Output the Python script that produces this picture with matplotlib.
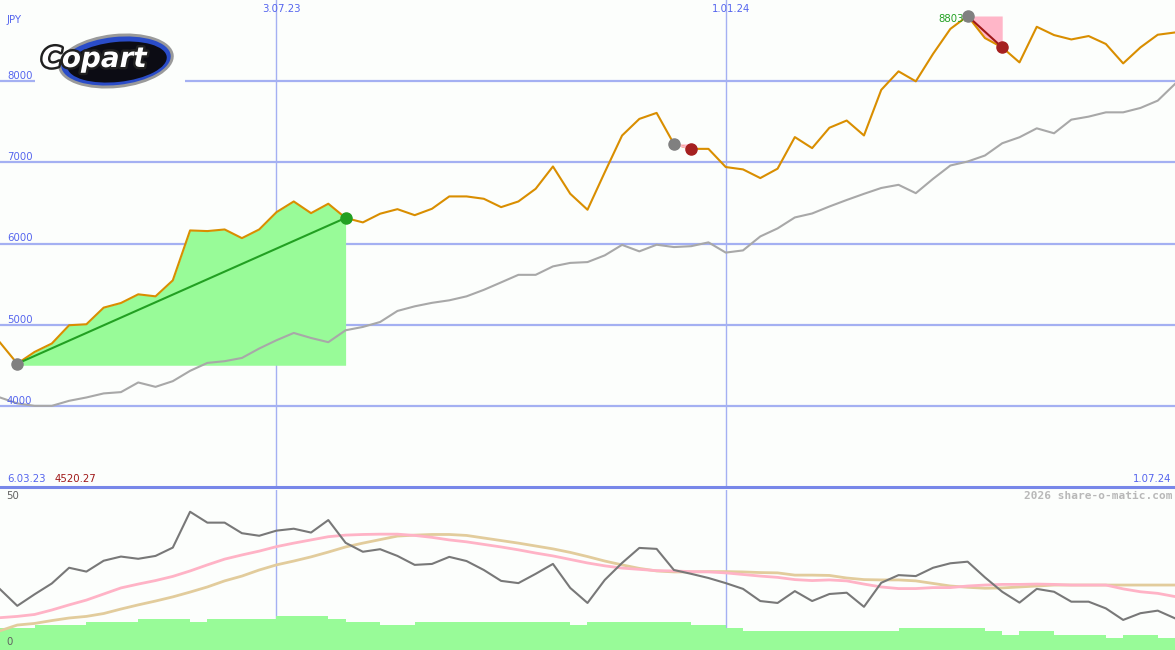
import numpy as np
import matplotlib.pyplot as plt
from matplotlib.patches import Ellipse
import matplotlib.patheffects as pe

# weekly closes (JPY) and comparison line
price = [4780, 4520, 4664, 4768, 4993, 5005, 5210, 5267, 5374, 5349,
         5546, 6161, 6153, 6173, 6066, 6173, 6386, 6518, 6374, 6490,
         6315, 6260, 6367, 6423, 6349, 6428, 6580, 6580, 6551, 6448,
         6518, 6674, 6949, 6613, 6416, 6878, 7330, 7535, 7609, 7227,
         7166, 7166, 6942, 6913, 6806, 6922, 7311, 7175, 7426, 7515,
         7331, 7893, 8121, 7998, 8337, 8644, 8803, 8531, 8416, 8231,
         8670, 8568, 8514, 8556, 8458, 8219, 8416, 8572, 8600]
bench = [4103, 4030, 4000, 4000, 4062, 4103, 4153, 4169, 4288, 4234,
         4304, 4431, 4529, 4550, 4590, 4706, 4808, 4898, 4836, 4784,
         4931, 4972, 5033, 5169, 5226, 5269, 5300, 5349, 5429, 5521,
         5614, 5614, 5718, 5761, 5771, 5854, 5983, 5903, 5985, 5956,
         5967, 6014, 5888, 5915, 6087, 6186, 6321, 6370, 6456, 6536,
         6612, 6684, 6723, 6620, 6797, 6961, 7010, 7084, 7235, 7309,
         7419, 7358, 7526, 7563, 7616, 7616, 7670, 7760, 7966]

# lower panel
osc = [19.0, 13.8, 17.4, 20.8, 25.7, 24.5, 27.9, 29.2, 28.5, 29.4,
       32.0, 43.2, 39.8, 39.8, 36.5, 35.7, 37.3, 37.9, 36.7, 40.6,
       33.5, 30.7, 31.5, 29.4, 26.6, 26.9, 29.1, 27.8, 25.0, 21.6,
       20.9, 23.8, 26.9, 19.4, 14.7, 21.9, 27.2, 31.9, 31.6, 25.0,
       23.8, 22.5, 20.9, 19.1, 15.3, 14.7, 18.4, 15.3, 17.5, 17.9,
       13.5, 21.0, 23.4, 23.1, 25.7, 27.1, 27.6, 22.7, 18.2, 14.8,
       19.1, 18.2, 15.1, 15.1, 13.0, 9.4, 11.5, 12.3, 9.9]
ma_fast = [10.1, 10.5, 11.1, 12.5, 14.1, 15.6, 17.5, 19.4, 20.6, 21.7,
           23.0, 24.7, 26.6, 28.4, 29.7, 30.9, 32.3, 33.4, 34.4, 35.4,
           35.9, 36.1, 36.2, 36.2, 35.8, 35.2, 34.4, 33.8, 33.0, 32.2,
           31.3, 30.3, 29.4, 28.3, 27.2, 26.3, 25.6, 25.2, 24.8, 24.7,
           24.5, 24.4, 24.1, 23.6, 23.1, 22.7, 22.0, 21.7, 21.9, 21.6,
           20.6, 19.7, 19.2, 19.2, 19.5, 19.5, 20.0, 20.3, 20.5, 20.5,
           20.6, 20.5, 20.3, 20.3, 20.3, 19.1, 18.2, 17.7, 16.7]
ma_slow = [6.0, 7.8, 8.3, 9.2, 10.0, 10.5, 11.4, 12.8, 14.1, 15.3,
           16.6, 18.1, 19.7, 21.6, 23.1, 25.0, 26.6, 27.8, 29.1, 30.6,
           32.2, 33.4, 34.5, 35.6, 35.9, 36.1, 36.1, 35.8, 35.0, 34.2,
           33.4, 32.5, 31.6, 30.5, 29.2, 27.8, 26.6, 25.5, 24.7, 24.4,
           24.4, 24.5, 24.5, 24.4, 24.2, 24.1, 23.4, 23.4, 23.3, 22.5,
           22.0, 21.9, 21.9, 21.6, 20.8, 20.0, 19.6, 19.3, 19.4, 19.7,
           20.0, 20.3, 20.3, 20.3, 20.3, 20.3, 20.3, 20.3, 20.3]
vol = ([7.0] * 2 + [7.8] * 3 + [8.75] * 3 + [9.7] * 3 + [8.75] + [9.7] * 4 +
       [10.6] * 3 + [9.7] + [8.75] * 2 + [7.8] * 2 + [8.75] * 9 + [7.8] +
       [8.75] * 6 + [7.8] * 2 + [6.9] + [5.9] * 9 + [7.0] * 5 + [5.9] +
       [4.7] + [5.9] * 2 + [4.7] * 3 + [3.8] + [4.7] * 2 + [3.8] * 2)

price_ticks = [4000, 5000, 6000, 7000, 8000]
vgrid = [16, 42]
vgrid_labels = ['3.07.23', '1.01.24']
start_label, end_label = '6.03.23', '1.07.24'

# markers: (from index, to index)
gain = (1, 20)
loss1 = (39, 40)
loss2 = (56, 58)

W, H = 1175, 650
bg = '#fcfefc'
grid = '#a4b0f2'
blue = '#5565ee'
orange = '#d98e00'
pale_green = '#98fb98'
pink = '#ffb6c8'

x = np.arange(len(price))
price = np.array(price, dtype=float)

fig = plt.figure(figsize=(W / 100, H / 100), dpi=100, facecolor=bg)
ax = fig.add_axes([0, 163 / H, 1, 487 / H], facecolor=bg)
ax2 = fig.add_axes([0, 0, 1, 160 / H], facecolor='none')
for a in (ax, ax2):
    a.set_xlim(0, len(price) - 1)
    a.set_xticks([])
    a.set_yticks([])
    for s in a.spines.values():
        s.set_visible(False)
ax.set_ylim(3000, 9000)
ax2.set_ylim(0, 50)

# grid
for v in price_ticks:
    ax.axhline(v, color=grid, lw=1.6, zorder=0)
    ax.text(0.006, v + 25, str(v), transform=ax.get_yaxis_transform(),
            color=blue, fontsize=7.3, va='baseline', ha='left')
for g, lab in zip(vgrid, vgrid_labels):
    ax.axvline(g, color=grid, lw=1, zorder=0)
    ax2.axvline(g, color=grid, lw=1, zorder=0)
    ax.text(g + 0.3, 1 - 9 / 487, lab, transform=ax.get_xaxis_transform(),
            color=blue, fontsize=7.3, ha='center', va='center')
ax.axhline(3000, color='#7787e9', lw=2.2, clip_on=False, zorder=5)

# gain area
i0, i1 = gain
ax.fill_between(x[i0:i1 + 1], 4500, price[i0:i1 + 1], color=pale_green, lw=0, zorder=1)
ax.plot([x[i0], x[i1]], [price[i0], price[i1]], color='#22a022', lw=1.5, zorder=4)

# loss areas
for (j0, j1) in (loss1, loss2):
    ax.fill_between(x[j0:j1 + 1], price[j0:j1 + 1], price[j0], color=pink, lw=0, zorder=1)
ax.plot([x[loss1[0]], x[loss1[1]]], [price[loss1[0]], price[loss1[1]]], color=pink, lw=1.5, zorder=4)
ax.plot([x[loss2[0]], x[loss2[1]]], [price[loss2[0]], price[loss2[1]]], color='#a01818', lw=1.5, zorder=4)

ax.plot(x, bench, color='#a8a8a8', lw=1.5, zorder=2)
ax.plot(x, price, color=orange, lw=1.5, zorder=3)

ax.text(54.3, 8760, '8803.0', color='#22a022', fontsize=7.3, va='center', ha='left', zorder=3)

ms = 8
ax.plot(x[i0], price[i0], 'o', color='#808080', ms=ms, zorder=6)
ax.plot(x[i1], price[i1], 'o', color='#22a022', ms=ms, zorder=6)
for (j0, j1) in (loss1, loss2):
    ax.plot(x[j0], price[j0], 'o', color='#808080', ms=ms, zorder=6)
    ax.plot(x[j1], price[j1], 'o', color='#a52020', ms=ms, zorder=6)

# labels
fig.text(7 / W, 1 - 20 / H, 'JPY', color=blue, fontsize=7.3, va='center')
fig.text(7 / W, 1 - 479 / H, start_label, color=blue, fontsize=7.3, va='center')
fig.text(55 / W, 1 - 479 / H, '%.2f' % 4520.27, color='#a01818', fontsize=7.3, va='center')
fig.text(1171 / W, 1 - 479 / H, end_label, color=blue, fontsize=7.3, va='center', ha='right')
fig.text(1172 / W, 1 - 496 / H, '2026 share-o-matic.com', color='#b8b8b8', fontsize=8,
         family='DejaVu Sans Mono', fontweight='bold', va='center', ha='right')
fig.text(6 / W, 1 - 496 / H, '50', color='#606060', fontsize=7.3, va='center')
fig.text(6 / W, 1 - 642 / H, '0', color='#606060', fontsize=7.3, va='center')

# lower panel
ax2.fill_between(x, 0, vol, step='post', color=pale_green, lw=0, zorder=1)
ax2.plot(x, ma_slow, color='#e2cc9c', lw=2, zorder=2)
ax2.plot(x, ma_fast, color='#ffb3c6', lw=2, zorder=2)
ax2.plot(x, osc, color='#787878', lw=1.5, zorder=3)

# logo
lax = fig.add_axes([35 / W, 1 - 92 / H, 150 / W, 60 / H], facecolor=bg)
lax.set_xlim(0, 150)
lax.set_ylim(0, 60)
lax.set_xticks([])
lax.set_yticks([])
for s in lax.spines.values():
    s.set_visible(False)
lax.add_patch(Ellipse((81, 31), 116, 54, angle=6, fc='#9a9a9a', ec='none'))
lax.add_patch(Ellipse((81, 31), 110, 48, angle=6, fc='#2a4cc8', ec='none'))
lax.add_patch(Ellipse((82, 30), 100, 40, angle=6, fc='#0c0c14', ec='none'))
lax.text(59, 33, 'Copart', color='white', fontsize=20, fontweight='bold', fontstyle='italic',
         ha='center', va='center',
         path_effects=[pe.withStroke(linewidth=3.5, foreground='#202020')])

fig.savefig('out.png', dpi=100, facecolor=bg)
